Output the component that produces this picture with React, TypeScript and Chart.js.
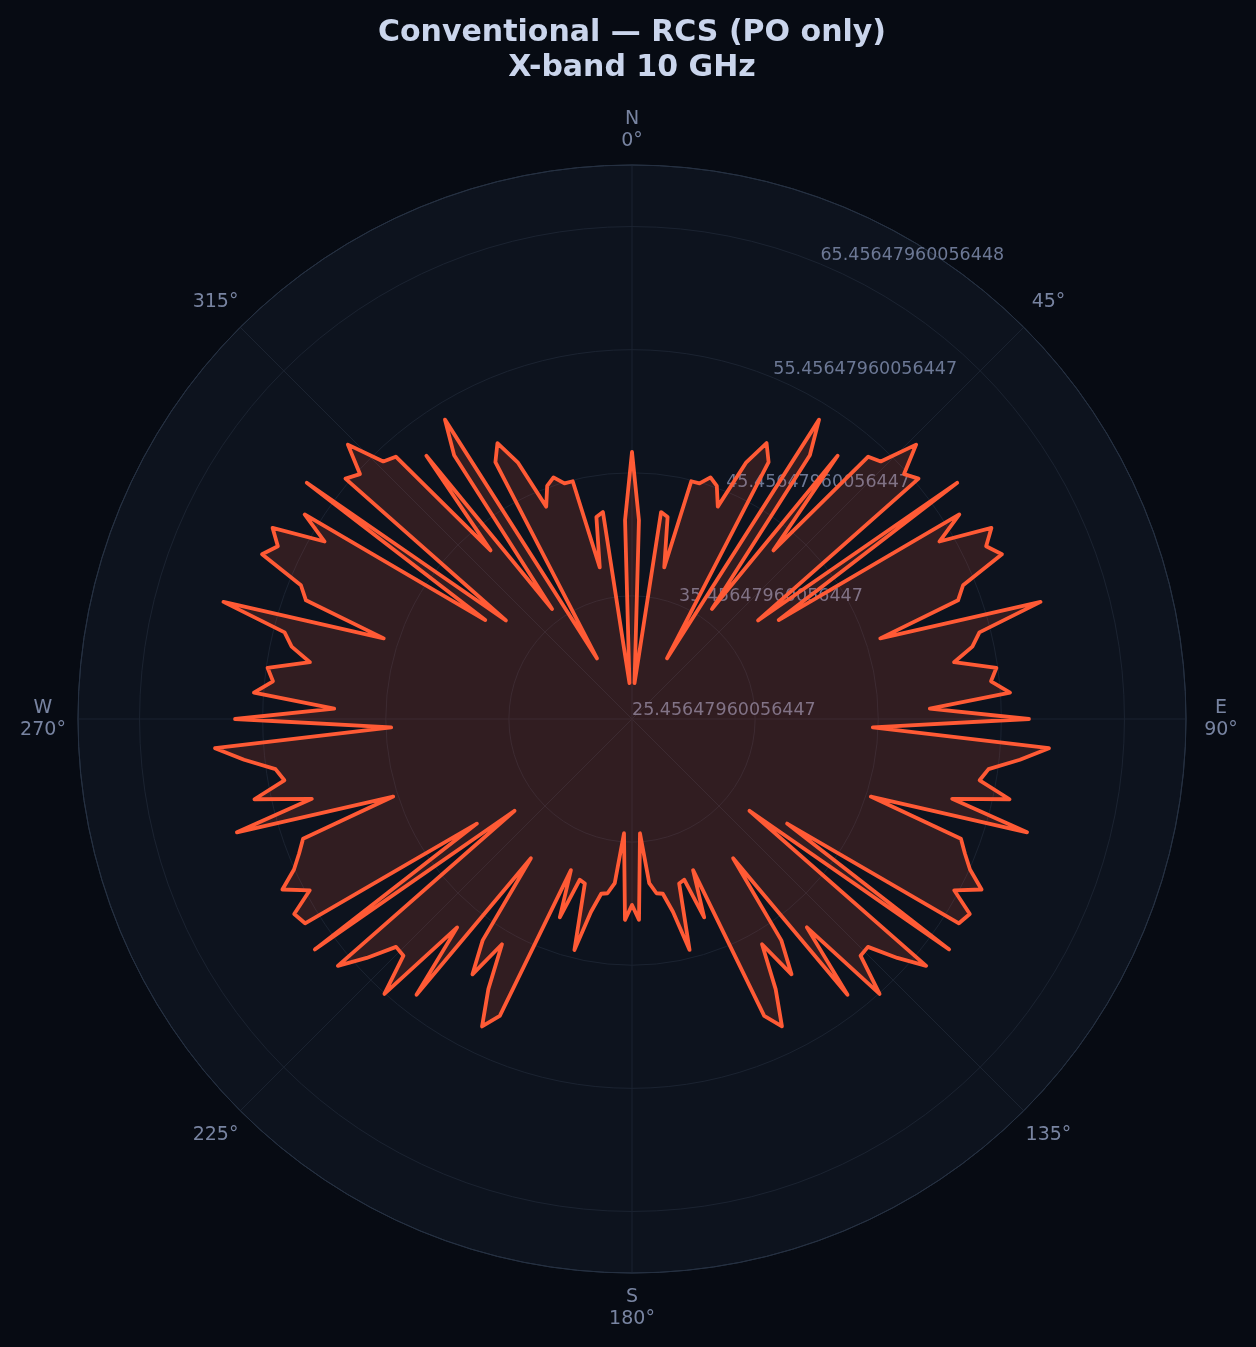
import React, { useEffect, useRef } from 'react';
import { Chart, registerables } from 'chart.js';

Chart.register(...registerables);

// ---------- data ----------
const TITLE_LINES = ['Conventional — RCS (PO only)', 'X-band 10 GHz'];

// aspect angles in 2° steps, 0° = N, clockwise
const angleCategories = Array.from({ length: 180 }, (_, i) => `${i * 2}°`);

// RCS (dBsm) for 0°..180° (step 2°)
const rcsEast = [
  47.15, 41.62, 28.38, 30.33, 42.43, 42.11, 38.05, 45.36, 45.36, 46.09,
  45.6, 44.06, 48.28, 50.39, 49.09, 31.14, 54.13, 51.29, 36.5, 52.59,
  43.33, 54.13, 54.54, 57.54, 55.19, 55.84, 38.45, 58.11, 39.83, 56.81,
  54.29, 58.52, 57.46, 58.35, 54.46, 53.64, 46.66, 59.98, 54.54, 53.72,
  52.02, 55.35, 54.78, 56.24, 49.66, 57.7, 45.03, 59.41, 57.14, 54.7,
  54.13, 56.81, 52.26, 58.84, 45.85, 53.89, 54.62, 55.51, 57.05, 55.1,
  57.14, 56.77, 40.65, 57.3, 37.56, 56.65, 54.46, 52.1, 52.18, 55.51,
  47.55, 53.89, 39.43, 47.15, 49.91, 46.58, 50.31, 53.24, 51.86, 38.7,
  42.6, 39.18, 39.35, 44.79, 41.46, 39.87, 39.75, 38.86, 34.76, 41.78,
  40.56,
];
// RCS (dBsm) for 182°..358° (step 2°)
const rcsWest = [
  41.78, 34.76, 38.86, 39.75, 39.87, 41.46, 44.79, 39.35, 39.18, 42.6,
  38.7, 51.86, 53.24, 50.31, 46.58, 49.91, 47.15, 39.43, 53.89, 47.55,
  55.51, 52.18, 52.1, 54.46, 56.65, 37.56, 57.3, 40.65, 56.77, 57.14,
  55.1, 57.05, 55.51, 54.62, 53.89, 45.85, 58.84, 52.26, 56.81, 54.13,
  54.7, 57.14, 59.41, 45.03, 57.7, 49.66, 56.24, 54.78, 55.35, 52.02,
  53.72, 54.54, 59.98, 46.66, 53.64, 54.46, 58.35, 57.46, 58.52, 54.29,
  56.81, 39.83, 58.11, 38.45, 55.84, 55.19, 57.54, 54.54, 54.13, 43.33,
  52.59, 36.5, 51.29, 54.13, 31.14, 49.09, 50.39, 48.28, 44.06, 45.6,
  46.09, 45.36, 45.36, 38.05, 42.11, 42.43, 30.33, 28.38, 41.62,
];

const R_MIN = 25.45647960056447;
const R_MAX = 70.45647960056447;
const tickValues = [25.45647960056447, 35.45647960056447, 45.45647960056447, 55.45647960056447, 65.45647960056448];
const tickLabels = ['25.45647960056447', '35.45647960056447', '45.45647960056447', '55.45647960056447', '65.45647960056448'];
const TICK_LABEL_ANGLE = 22.5;

const compassAngles = [0, 45, 90, 135, 180, 225, 270, 315];
const compassLabels = [['N', '0°'], ['45°'], ['E', '90°'], ['135°'], ['S', '180°'], ['225°'], ['W', '270°'], ['315°']];

// ---------- styles ----------
const FIG_BG = '#070b13';
const AX_BG = '#0d131e';
const GRID = '#1b2331';
const OUTER = '#263142';
const LINE = '#ff5a35';
const FILL = 'rgba(255, 87, 51, 0.15)';
const TITLE_COLOR = '#cad5ec';
const LABEL_COLOR = '#7884a1';
const TICK_COLOR = '#6c7895';
const FONT = "'DejaVu Sans', sans-serif";

const rad = (d: number) => (d * Math.PI) / 180;

const polarDecor = {
  id: 'polarDecor',
  beforeDraw(chart: any) {
    const { ctx } = chart;
    const s = chart.scales.r;
    ctx.save();
    ctx.fillStyle = FIG_BG;
    ctx.fillRect(0, 0, chart.width, chart.height);
    ctx.fillStyle = AX_BG;
    ctx.beginPath();
    ctx.arc(s.xCenter, s.yCenter, s.drawingArea, 0, Math.PI * 2);
    ctx.fill();
    ctx.restore();
  },
  beforeDatasetsDraw(chart: any) {
    const { ctx } = chart;
    const s = chart.scales.r;
    ctx.save();
    // spokes every 45°
    ctx.strokeStyle = GRID;
    ctx.lineWidth = 1;
    compassAngles.forEach((a) => {
      const p = s.getPointPosition(0, s.drawingArea, rad(a));
      ctx.beginPath();
      ctx.moveTo(s.xCenter, s.yCenter);
      ctx.lineTo(p.x, p.y);
      ctx.stroke();
    });
    // outer ring on top of spokes
    ctx.strokeStyle = OUTER;
    ctx.beginPath();
    ctx.arc(s.xCenter, s.yCenter, s.drawingArea, 0, Math.PI * 2);
    ctx.stroke();
    // radial tick labels
    ctx.fillStyle = TICK_COLOR;
    ctx.font = `17.5px ${FONT}`;
    ctx.textAlign = 'left';
    ctx.textBaseline = 'bottom';
    tickValues.forEach((v, i) => {
      const p = s.getPointPosition(0, s.getDistanceFromCenterForValue(v), rad(TICK_LABEL_ANGLE));
      ctx.fillText(tickLabels[i], p.x, p.y);
    });
    ctx.restore();
  },
  afterDraw(chart: any) {
    const { ctx } = chart;
    const s = chart.scales.r;
    ctx.save();
    ctx.fillStyle = LABEL_COLOR;
    ctx.font = `19px ${FONT}`;
    ctx.textAlign = 'center';
    ctx.textBaseline = 'middle';
    const lh = 21.8;
    compassAngles.forEach((a, k) => {
      const p = s.getPointPosition(0, s.drawingArea + 35, rad(a));
      const lines = compassLabels[k];
      lines.forEach((t, i) => {
        ctx.fillText(t, p.x, p.y + (i - (lines.length - 1) / 2) * lh);
      });
    });
    ctx.restore();
  },
};

export default function App() {
  const ref = useRef<HTMLCanvasElement | null>(null);

  useEffect(() => {
    document.body.style.background = FIG_BG;
    const canvas = ref.current;
    if (!canvas) return;
    const chart = new Chart(canvas, {
      type: 'radar',
      data: {
        labels: angleCategories,
        datasets: [
          {
            label: 'RCS',
            data: [...rcsEast, ...rcsWest],
            borderColor: LINE,
            borderWidth: 3.8,
            backgroundColor: FILL,
            fill: 'start',
            pointRadius: 0,
            pointHoverRadius: 0,
            tension: 0,
            borderJoinStyle: 'round',
            borderCapStyle: 'round',
            segment: {
              borderColor: (c: any) => (c.p1DataIndex === 0 ? 'rgba(0,0,0,0)' : undefined),
            },
          } as any,
        ],
      },
      options: {
        responsive: true,
        maintainAspectRatio: false,
        animation: false,
        layout: { padding: { left: 8, right: 0, top: 0, bottom: 74 } },
        scales: {
          r: {
            min: R_MIN,
            max: R_MAX,
            startAngle: 0,
            afterBuildTicks: (scale: any) => {
              scale.ticks = [...tickValues, R_MAX].map((v) => ({ value: v }));
            },
            ticks: { display: false },
            pointLabels: { display: false },
            angleLines: { display: false },
            grid: {
              circular: true,
              color: (c: any) => (c.index === tickValues.length ? OUTER : GRID),
              lineWidth: 1,
            },
          } as any,
        },
        plugins: {
          legend: { display: false },
          tooltip: { enabled: false },
          title: {
            display: true,
            text: TITLE_LINES,
            color: TITLE_COLOR,
            font: { family: FONT, size: 30, weight: 'bold', lineHeight: 1.15 },
            padding: { top: 16, bottom: 80 },
          },
        },
      },
      plugins: [polarDecor],
    });
    return () => chart.destroy();
  }, []);

  return (
    <div style={{ position: 'absolute', left: 0, top: 0, width: 1256, height: 1347, background: FIG_BG }}>
      <canvas ref={ref} />
    </div>
  );
}
